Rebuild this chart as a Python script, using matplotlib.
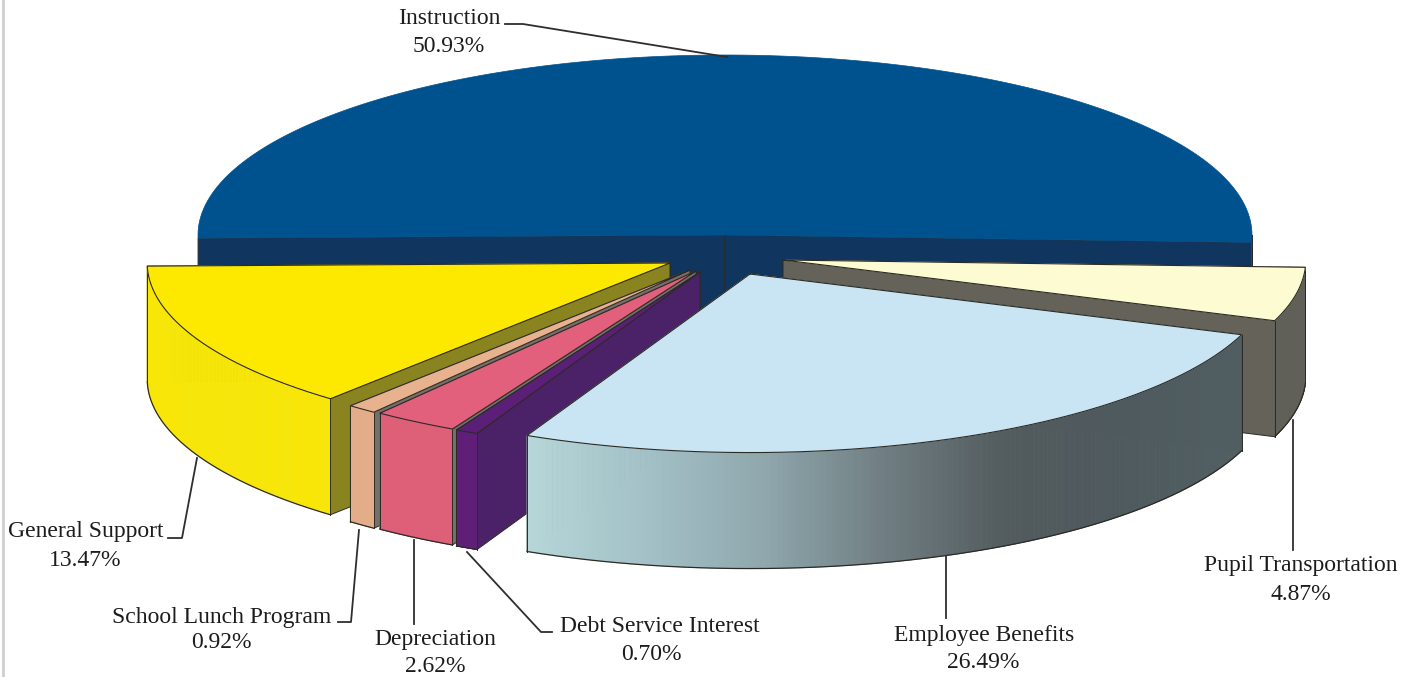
import matplotlib
matplotlib.use('Agg')
import matplotlib.pyplot as plt
import numpy as np
from matplotlib.colors import to_rgb
from matplotlib.patches import Polygon

plt.rcParams['font.family'] = ['Liberation Serif', 'DejaVu Serif']

# data, clockwise from the left edge of the pie
names = ['Instruction', 'Pupil Transportation', 'Employee Benefits', 'Debt Service Interest',
         'Depreciation', 'School Lunch Program', 'General Support']
values = [50.93, 4.87, 26.49, 0.70, 2.62, 0.92, 13.47]

# styles per slice, wall colours run left to right on screen
top_col = ['#00528f', '#fdfbd2', '#c9e4f3', '#5c1f78', '#e2607c', '#e9b28e', '#fde800']
cut_col = ['#10355f', '#65625a', '#65625a', '#4b2268', '#75706a', '#75706a', '#8a8420']
side_col = [['#00528f'], ['#605f58'],
            ['#b6d6d8', '#a2c0c6', '#8ea6ac', '#6f7d81', '#525b5e', '#4f5a5e', '#505e62'],
            ['#5f1f78'], ['#dd5f78'], ['#e4ad8a'], ['#f7e608']]

# layout in pixels
center_x = [725, 783, 750, 700, 696, 690, 670]
center_y = [235, 260, 274, 272, 271, 270, 263]
scale = [1.0, 0.992, 0.992, 0.992, 0.992, 0.992, 0.992]
rx, ry = 527, 180
depth = 116
start_angle = 181
draw_order = [0, 1, 6, 5, 4, 3, 2]

name_pos = [(449, 19), (1301, 566), (984, 635), (660, 627), (435, 639), (222, 617), (86, 532)]
pct_pos = [(449, 46), (1301, 594), (983, 662), (651, 654), (435, 666), (221, 643), (85, 560)]
leaders = [[(505, 24), (523, 24), (727, 57)],
           [(1293, 420), (1293, 550)],
           [(946, 556), (946, 618)],
           [(467, 552), (541, 632), (552, 632)],
           [(414, 540), (414, 624)],
           [(338, 622), (351, 622), (359, 530)],
           [(168, 538), (182, 538), (197, 458)]]

edge = '#2b2b25'

fig = plt.figure(figsize=(14.18, 6.77), dpi=100)
ax = fig.add_axes([0, 0, 1, 1])
ax.set_xlim(0, 1418)
ax.set_ylim(677, 0)
ax.axis('off')

ax.axvline(3, color='#cfcfcf', lw=2)

ends = start_angle - np.cumsum(values) * 3.6
starts = np.r_[start_angle, ends[:-1]]


def arc(i, a1, a2, n=120):
    t = np.radians(np.linspace(a1, a2, n))
    x = center_x[i] + rx * scale[i] * np.cos(t)
    y = center_y[i] - ry * scale[i] * np.sin(t)
    return x, y


def mix(stops, f):
    cols = np.array([to_rgb(c) for c in stops])
    pos = np.linspace(0, 1, len(stops))
    return [np.interp(f, pos, cols[:, k]) for k in range(3)]


for i in draw_order:
    cx, cy = center_x[i], center_y[i]
    a1, a2 = starts[i], ends[i]
    x, y = arc(i, a1, a2, 200)

    # the two cut faces, the one further back first
    corners = sorted([(x[0], y[0]), (x[-1], y[-1])], key=lambda p: p[1])
    for px, py in corners:
        ax.add_patch(Polygon([(cx, cy), (px, py), (px, py + depth), (cx, cy + depth)],
                             fc=cut_col[i], ec=edge, lw=0.7, zorder=1))

    # outer wall, only the part that faces the viewer
    lo, hi = max(a2, -180), min(a1, 0)
    if hi > lo:
        sx, sy = arc(i, lo, hi, 160)
        for k in range(len(sx) - 1):
            f = (sx[k] - sx[0]) / (sx[-1] - sx[0])
            c = mix(side_col[i], f)
            ax.fill([sx[k], sx[k + 1], sx[k + 1], sx[k]],
                    [sy[k], sy[k + 1], sy[k + 1] + depth, sy[k] + depth],
                    color=c, lw=0.6, zorder=1)
        ax.plot(sx, sy + depth, color=edge, lw=0.9, zorder=1)
        ax.plot([sx[0], sx[0]], [sy[0], sy[0] + depth], color=edge, lw=0.7, zorder=1)
        ax.plot([sx[-1], sx[-1]], [sy[-1], sy[-1] + depth], color=edge, lw=0.7, zorder=1)

    # top surface
    ax.add_patch(Polygon(np.r_[[(cx, cy)], np.c_[x, y]], fc=top_col[i], ec=top_col[i], lw=0.5, zorder=1))
    if i != 0:
        ax.plot(np.r_[cx, x, cx], np.r_[cy, y, cy], color=edge, lw=0.8, zorder=1)

for name, val, np_, pp, pts in zip(names, values, name_pos, pct_pos, leaders):
    ax.text(np_[0], np_[1], name, ha='center', va='center', fontsize=17, color='#1c1c1c', zorder=3)
    ax.text(pp[0], pp[1], f'{val:.2f}%', ha='center', va='center', fontsize=17, color='#1c1c1c', zorder=3)
    ax.plot(*zip(*pts), color='#2e2e2e', lw=1.3, zorder=2)

fig.savefig('out.png', dpi=100)
